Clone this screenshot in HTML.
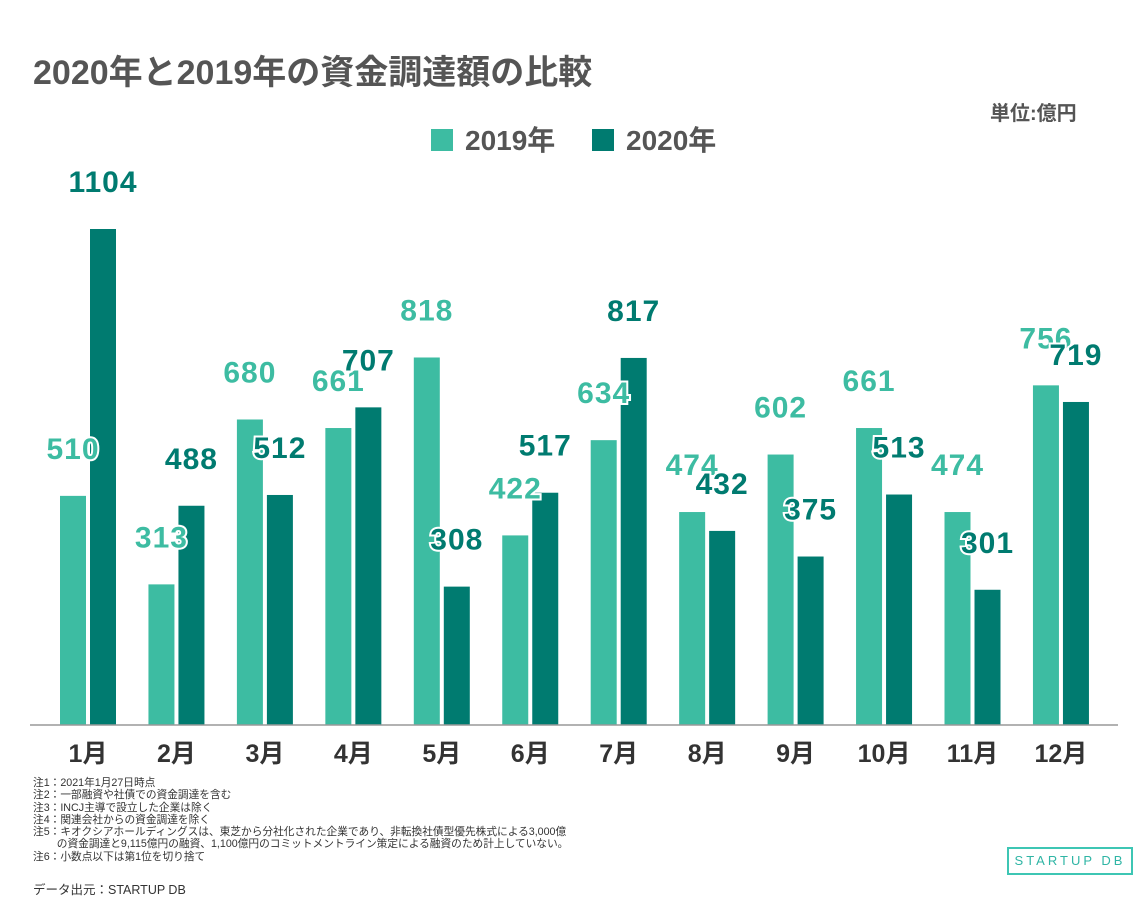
<!DOCTYPE html>
<html><head><meta charset="utf-8"><style>
body{margin:0;background:#fff;font-family:"Liberation Sans","Noto Sans CJK JP",sans-serif;}
#wrap{position:relative;width:1148px;height:906px;overflow:hidden;}
.t{position:absolute;white-space:nowrap;}
</style></head><body><div id="wrap">
<div class="t" style="left:33px;top:45px;font-size:34px;font-weight:bold;color:#555;">2020年と2019年の資金調達額の比較</div>
<div class="t" style="left:990px;top:97px;font-size:20px;font-weight:bold;color:#555;">単位:億円</div>
<div class="t" style="left:431px;top:119px;font-size:28px;font-weight:bold;color:#555;"><span style="display:inline-block;width:22px;height:22px;background:#3dbca2;vertical-align:-1px;margin-right:12px"></span>2019年</div>
<div class="t" style="left:592px;top:119px;font-size:28px;font-weight:bold;color:#555;"><span style="display:inline-block;width:22px;height:22px;background:#007b70;vertical-align:-1px;margin-right:12px"></span>2020年</div>
<svg id="chart" width="1148" height="906" style="position:absolute;left:0;top:0"></svg>
<div class="t" style="left:33px;top:777px;font-size:10.7px;line-height:12.3px;color:#333;">注1：2021年1月27日時点<br>注2：一部融資や社債での資金調達を含む<br>注3：INCJ主導で設立した企業は除く<br>注4：関連会社からの資金調達を除く<br>注5：キオクシアホールディングスは、東芝から分社化された企業であり、非転換社債型優先株式による3,000億<br>&nbsp;&nbsp;&nbsp;&nbsp;&nbsp;&nbsp;&nbsp;&nbsp;の資金調達と9,115億円の融資、1,100億円のコミットメントライン策定による融資のため計上していない。<br>注6：小数点以下は第1位を切り捨て</div>
<div class="t" style="left:33px;top:879px;font-size:12.5px;color:#333;">データ出元：STARTUP DB</div>
<div class="t" style="left:1007px;top:847px;width:126px;height:28px;border:2px solid #3dc6b4;box-sizing:border-box;color:#2fb5a5;font-size:13px;letter-spacing:3px;text-align:center;line-height:24px;">STARTUP DB</div>
</div>
<script>
const months=["1月","2月","3月","4月","5月","6月","7月","8月","9月","10月","11月","12月"];
const values2019=[510,313,680,661,818,422,634,474,602,661,474,756];
const values2020=[1104,488,512,707,308,517,817,432,375,513,301,719];
const svg=document.getElementById('chart');
const NS='http://www.w3.org/2000/svg';
const base=725, scale=496/1104;
const y=v=>base-v*scale;
const gx=i=>60+i*88.45;
function mk(tag,attrs){const e=document.createElementNS(NS,tag);for(const k in attrs)e.setAttribute(k,attrs[k]);svg.appendChild(e);return e;}
const series=[{vals:values2019,c:"#3dbca2",off:0,n:"2019"},{vals:values2020,c:"#007b70",off:30,n:"2020"}];
series.forEach(s=>{s.vals.forEach((v,i)=>{
 const r=mk('rect',{x:gx(i)+s.off,y:y(v),width:26,height:base-y(v),fill:s.c});
 
 
});});
const ax=mk('line',{x1:30,x2:1118,y1:base,y2:base,stroke:'#999','stroke-width':1.5});


months.forEach((m,i)=>{
 const t=mk('text',{x:gx(i)+28,y:762,'text-anchor':'middle','font-size':25,'font-weight':'bold',fill:'#333','font-family':'"Liberation Sans","Noto Sans CJK JP",sans-serif'});
 t.textContent=m;
 
 
});
series.forEach(s=>{s.vals.forEach((v,i)=>{
 const t=mk('text',{x:gx(i)+s.off+13,y:y(v)-37,'text-anchor':'middle','font-size':30,'font-weight':'bold','letter-spacing':1,fill:s.c,stroke:'#fff','stroke-width':4,'paint-order':'stroke','font-family':'"Liberation Sans",sans-serif'});
 t.textContent=v;
 
 
});});
</script>
</body></html>
